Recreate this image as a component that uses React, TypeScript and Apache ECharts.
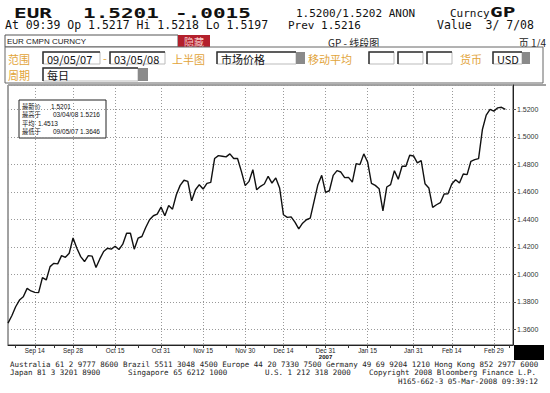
import React, { useEffect, useRef } from "react";
import * as echarts from "echarts";

// EUR daily closes, 09/05/07 .. 03/05/08 (trading days)
const prices: number[] = [
  1.3646, 1.37, 1.3765, 1.3814, 1.3838, 1.3899, 1.388, 1.387, 1.3868, 1.3977,
  1.396, 1.4057, 1.4081, 1.4077, 1.4137, 1.4125, 1.4154, 1.4266, 1.4191, 1.413,
  1.4094, 1.4137, 1.4133, 1.405, 1.4113, 1.4167, 1.4191, 1.4184, 1.4205, 1.4181,
  1.422, 1.43, 1.43, 1.4184, 1.4264, 1.4276, 1.4342, 1.4398, 1.4427, 1.4439,
  1.449, 1.4427, 1.4502, 1.4475, 1.458, 1.4648, 1.4685, 1.4677, 1.4536, 1.4616,
  1.4653, 1.4621, 1.4663, 1.467, 1.4843, 1.4864, 1.486, 1.4855, 1.4877, 1.4843,
  1.4843, 1.475, 1.4646, 1.4677, 1.4762, 1.4616, 1.4641, 1.4658, 1.4714, 1.4665,
  1.4702, 1.4629, 1.4434, 1.4415, 1.4419, 1.4381, 1.4332, 1.4373, 1.4398, 1.441,
  1.4531, 1.4653, 1.4721, 1.4597, 1.4609, 1.4721, 1.4755, 1.4745, 1.4704, 1.4706,
  1.4672, 1.4806, 1.4799, 1.4877, 1.4818, 1.4663, 1.4648, 1.4624, 1.4463, 1.4636,
  1.4653, 1.4755, 1.4692, 1.4787, 1.4787, 1.4867, 1.4862, 1.4811, 1.4828, 1.466,
  1.4629, 1.4488, 1.4507, 1.4522, 1.4585, 1.4587, 1.4658, 1.4689, 1.4665, 1.4731,
  1.4726, 1.4823, 1.4835, 1.4843, 1.5054, 1.5159, 1.52, 1.5188, 1.5212, 1.5216,
  1.5201,
];

const labelDates: string[] = [
  "2007-09-14", "2007-09-28", "2007-10-15", "2007-10-31", "2007-11-15", "2007-11-30",
  "2007-12-14", "2007-12-31", "2008-01-15", "2008-01-31", "2008-02-14", "2008-02-29",
];
const labelTexts: string[] = [
  "Sep 14", "Sep 28", "Oct 15", "Oct 31", "Nov 15", "Nov 30",
  "Dec 14", "Dec 31", "Jan 15", "Jan 31", "Feb 14", "Feb 29",
];
const yearLabelDate = "2007-12-31";
const yearLabel = "2007";

const legendRows: [string, string][] = [
  ["最新价", "1.5201"],
  ["最高于", "03/04/08 1.5216"],
  ["平均", "1.4513"],
  ["最低于", "09/05/07 1.3646"],
];

// trading-day calendar (weekdays) 09/05/07 .. 03/07/08
function buildDates(): string[] {
  const out: string[] = [];
  const d = new Date(Date.UTC(2007, 8, 5));
  const end = Date.UTC(2008, 2, 7);
  while (d.getTime() <= end) {
    const wd = d.getUTCDay();
    if (wd !== 0 && wd !== 6) {
      const m = String(d.getUTCMonth() + 1).padStart(2, "0");
      const dd = String(d.getUTCDate()).padStart(2, "0");
      out.push(`${d.getUTCFullYear()}-${m}-${dd}`);
    }
    d.setUTCDate(d.getUTCDate() + 1);
  }
  return out;
}

const MONO = "'DejaVu Sans Mono', monospace";
const CJK = "'Noto Sans CJK SC', sans-serif";
const SANS = "'Liberation Sans', Arial, sans-serif";
const ORANGE = "#e2a43a";

function txt(text: string, x: number, y: number, font: string, fill = "#111", align = "left", scaleX = 1): any {
  return {
    type: "text",
    x,
    y,
    scaleX,
    style: { text, font, fill, textAlign: align, textVerticalAlign: "middle", verticalAlign: "middle" },
  };
}

function box(x: number, y: number, w: number, h: number, text?: string): any[] {
  const els: any[] = [
    { type: "rect", shape: { x, y, width: w, height: h }, style: { fill: "#fff", stroke: "#bbb", lineWidth: 1 } },
    { type: "polyline", shape: { points: [[x, y + h], [x, y], [x + w, y]] }, style: { stroke: "#333", lineWidth: 1.5, fill: null } },
  ];
  if (text) els.push(txt(text, x + 4, y + h / 2 + 0.5, `11px ${CJK}`, "#111"));
  return els;
}

function greySq(x: number, y: number, w: number, h: number): any {
  return { type: "rect", shape: { x, y, width: w, height: h }, style: { fill: "#8a8a8a" } };
}

export default function App() {
  const ref = useRef<HTMLDivElement>(null);

  useEffect(() => {
    if (!ref.current) return;
    const chart = echarts.init(ref.current, undefined, { renderer: "svg" });
    const dates = buildDates();
    const labelSet = new Set(labelDates);
    const labelIdx = labelDates.map((d) => dates.indexOf(d));
    const tickSet = new Set<string>(labelDates);
    for (let i = 0; i < labelIdx.length - 1; i++) {
      tickSet.add(dates[Math.round((labelIdx[i] + labelIdx[i + 1]) / 2)]);
    }
    tickSet.add(dates[Math.max(0, labelIdx[0] - 5)]);
    tickSet.add(dates[Math.min(dates.length - 1, labelIdx[labelIdx.length - 1] + 4)]);

    const graphics: any[] = [];
    // header
    graphics.push(txt("EUR", 14, 13, `bold 14px ${MONO}`, "#111", "left", 1.5));
    graphics.push(txt("1.5201", 83, 13, `bold 14px ${MONO}`, "#111", "left", 1.5));
    graphics.push(txt("-.0015", 175, 13, `bold 14px ${MONO}`, "#111", "left", 1.5));
    graphics.push(txt("1.5200/1.5202 ANON", 296, 13, `11px ${MONO}`));
    graphics.push(txt("Curncy", 450, 13, `11px ${MONO}`));
    graphics.push(txt("GP", 490, 12, `bold 14px ${MONO}`, "#111", "left", 1.5));
    graphics.push(txt("At 09:39 Op 1.5217 Hi 1.5218 Lo 1.5197", 5, 25, `11.5px ${MONO}`));
    graphics.push(txt("Prev 1.5216", 288, 25, `11px ${MONO}`));
    graphics.push(txt("Value  3/ 7/08", 437, 25, `11.5px ${MONO}`));
    // row 3
    graphics.push({ type: "rect", shape: { x: 5, y: 35, width: 173, height: 12 }, style: { fill: "#fff", stroke: "#555", lineWidth: 1 } });
    graphics.push(txt("EUR CMPN CURNCY", 7, 41.5, `8px ${SANS}`, "#222"));
    graphics.push({ type: "rect", shape: { x: 178, y: 35, width: 32, height: 12 }, style: { fill: "#b3202c" } });
    graphics.push(txt("隐藏", 194, 41, `10px ${CJK}`, "#f5c8c8", "center"));
    graphics.push(txt("GP - 线段图", 328, 42, `10px ${CJK}`, "#222"));
    graphics.push(txt("页 1/4", 546, 42, `10px ${CJK}`, "#222", "right"));
    // form area
    graphics.push({ type: "rect", shape: { x: 5, y: 47, width: 538, height: 36 }, style: { fill: "#fff", stroke: "#666", lineWidth: 1 } });
    graphics.push(txt("范围", 8, 58.5, `11px ${CJK}`, ORANGE));
    graphics.push(...box(43, 52, 57, 12, "09/05/07"));
    graphics.push(txt("-", 103, 58, `11px ${CJK}`, ORANGE));
    graphics.push(...box(110, 52, 55, 12, "03/05/08"));
    graphics.push(txt("上半图", 172, 58.5, `11px ${CJK}`, ORANGE));
    graphics.push(...box(217, 52, 79, 12, "市场价格"));
    graphics.push(greySq(296, 52, 9, 12));
    graphics.push(txt("移动平均", 308, 58.5, `11px ${CJK}`, ORANGE));
    graphics.push(...box(369, 52, 25, 12));
    graphics.push(...box(398, 52, 25, 12));
    graphics.push(...box(427, 52, 25, 12));
    graphics.push(txt("货币", 460, 58.5, `11px ${CJK}`, ORANGE));
    graphics.push(...box(493, 52, 29, 12, "USD"));
    graphics.push(greySq(522, 52, 8, 12));
    graphics.push(txt("周期", 8, 74.5, `11px ${CJK}`, ORANGE));
    graphics.push(...box(43, 68, 95, 13, "每日"));
    graphics.push(greySq(138, 68, 10, 13));
    // chart frame top extension & black box
    graphics.push({ type: "line", shape: { x1: 513, y1: 85, x2: 546, y2: 85 }, style: { stroke: "#444", lineWidth: 1 } });
    graphics.push({ type: "rect", shape: { x: 514, y: 345, width: 30, height: 15 }, style: { fill: "#000" } });
    // legend box
    graphics.push({ type: "rect", shape: { x: 19, y: 100, width: 87, height: 38 }, style: { fill: "#fff", stroke: "#222", lineWidth: 1 } });
    const rowY = [106.5, 114.8, 123, 131.2];
    const valX = [51, 53, 38, 53];
    legendRows.forEach((r, i) => {
      graphics.push(txt(r[0], 22, rowY[i], `6.3px ${CJK}`, "#111"));
      graphics.push(txt(r[1], valX[i], rowY[i], `6.5px ${SANS}`, "#111"));
    });
    // footer
    const FF = `7.5px ${MONO}`;
    graphics.push(txt("Australia 61 2 9777 8600 Brazil 5511 3048 4500 Europe 44 20 7330 7500 Germany 49 69 9204 1210 Hong Kong 852 2977 6000", 10, 364, FF, "#222"));
    graphics.push(txt("Japan 81 3 3201 8900", 10, 372.5, FF, "#222"));
    graphics.push(txt("Singapore 65 6212 1000", 128, 372.5, FF, "#222"));
    graphics.push(txt("U.S. 1 212 318 2000", 265, 372.5, FF, "#222"));
    graphics.push(txt("Copyright 2008 Bloomberg Finance L.P.", 369, 372.5, FF, "#222"));
    graphics.push(txt("H165-662-3 05-Mar-2008 09:39:12", 538, 381, FF, "#222", "right"));

    chart.setOption({
      animation: false,
      backgroundColor: "#fff",
      grid: { left: 8, right: 37, top: 85, bottom: 48, show: true, borderColor: "#444", borderWidth: 1, backgroundColor: "#fff" },
      xAxis: {
        type: "category",
        data: dates,
        boundaryGap: false,
        axisLine: { show: true, lineStyle: { color: "#222", width: 1 } },
        axisTick: { show: true, length: 3, interval: (_i: number, v: string) => tickSet.has(v), lineStyle: { color: "#333" } },
        axisLabel: {
          interval: (_i: number, v: string) => labelSet.has(v),
          formatter: (v: string) => {
            const k = labelDates.indexOf(v);
            if (k < 0) return "";
            return v === yearLabelDate ? `{a|${labelTexts[k]}}\n{b|${yearLabel}}` : `{a|${labelTexts[k]}}`;
          },
          margin: 2,
          rich: {
            a: { fontSize: 6.3, fontFamily: SANS, color: "#222", lineHeight: 6.5 },
            b: { fontSize: 6, fontFamily: SANS, fontWeight: "bold", color: "#111", lineHeight: 6 },
          },
        },
        splitLine: { show: true, interval: (_i: number, v: string) => labelSet.has(v), lineStyle: { color: "#999", type: [1, 2], width: 1 } },
      },
      yAxis: {
        type: "value",
        position: "right",
        min: 1.3487,
        max: 1.5378,
        splitNumber: 9,
        axisLine: { show: true, lineStyle: { color: "#222", width: 1 } },
        axisTick: { show: true, length: 3, lineStyle: { color: "#555" } },
        axisLabel: {
          showMinLabel: false,
          showMaxLabel: false,
          fontSize: 7,
          fontFamily: SANS,
          color: "#333",
          margin: 4,
          formatter: (v: number) => (Math.abs(v / 0.02 - Math.round(v / 0.02)) < 1e-4 ? v.toFixed(4) : ""),
        },
        splitLine: { show: true, lineStyle: { color: "#999", type: [1, 2], width: 1 } },
      },
      series: [
        {
          type: "line",
          data: prices,
          symbol: "none",
          lineStyle: { color: "#111", width: 1.4 },
          silent: true,
        },
      ],
      graphic: { elements: graphics },
    });
    return () => chart.dispose();
  }, []);

  return <div ref={ref} style={{ position: "absolute", left: 0, top: 0, width: 550, height: 393, background: "#fff" }} />;
}
